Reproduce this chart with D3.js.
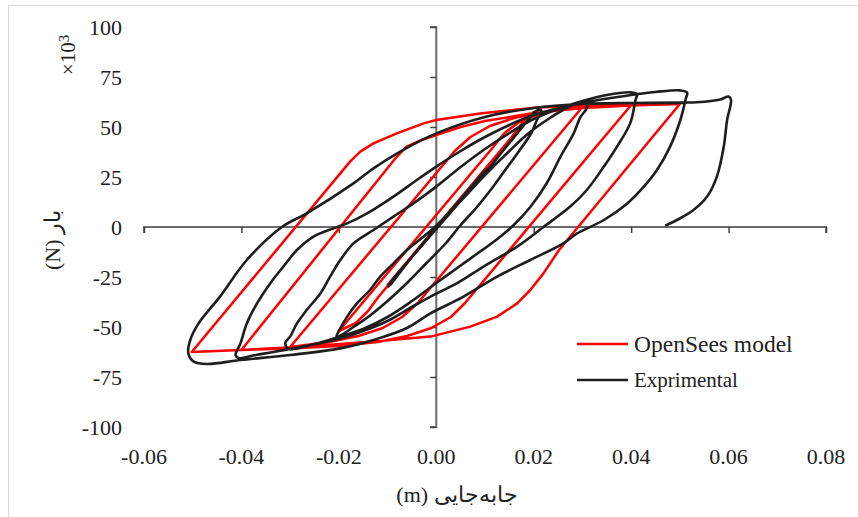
<!DOCTYPE html>
<html><head><meta charset="utf-8">
<script src="https://cdn.jsdelivr.net/npm/d3@7"></script>
<style>
html,body{margin:0;padding:0;background:#fff;}
</style></head>
<body><svg id="c" width="858" height="517"></svg>
<script>
// ---- data ----
const xTicks = [-0.06,-0.04,-0.02,0,0.02,0.04,0.06,0.08];
const yTicks = [-100,-75,-50,-25,0,25,50,75,100];
const seriesNames = ["OpenSees model","Exprimental"];
// OpenSees model path: [displacement (m), load (kN)]
const openSees = [
 [0,0],[0.01,29],[-0.01,-29],
 [0.0155,45],[0.017,50],[0.0185,54.5],[0.02,57.5],
 [-0.0119,-35],[-0.014,-42],[-0.0165,-48],[-0.02,-52],
 [0.0117,40],[0.014,47],[0.017,52.5],[0.021,56.5],[0.025,58.5],[0.03,60],
 [-0.0038,-38],[-0.007,-45],[-0.011,-50.5],[-0.016,-54.5],[-0.022,-57.5],[-0.03,-60],
 [0.0038,38],[0.007,45],[0.011,50.5],[0.016,54.5],[0.022,57.5],[0.03,59.5],[0.04,61],
 [0.0059,-38],[0.003,-45],[-0.001,-50.5],[-0.006,-54.5],[-0.012,-57.5],[-0.02,-59.5],[-0.03,-60.7],[-0.04,-61.5],
 [-0.0085,34],[-0.0062,40],[-0.003,43.5],[0,46],[0.005,50],[0.01,53],[0.02,57],[0.03,59.5],[0.04,60.8],[0.05,61.5],
 [0.0252,-11.5],[0.022,-23.2],[0.0193,-31.5],[0.0166,-38.2],[0.0125,-44.8],[0.007,-49.8],[-0.0012,-54.8],[-0.0129,-57.3],[-0.0266,-59.8],[-0.0402,-61.5],[-0.0502,-62.5],
 [-0.0177,32.7],[-0.0156,37.7],[-0.0129,41.8],[-0.0081,46.8],[-0.0026,51.8],[0,53.5],[0.009,56.8],[0.0207,59.8],[0.035,61],[0.05,61.5]
];
// Experimental path: [displacement (m), load (kN)]
const experimental = [
 [0,0],[0.005,14],[0.01,28],[0.0105,29],[0.008,22],[0.004,11],[0,0],[-0.005,-15],[-0.0098,-29.8],[-0.0095,-28],
 [-0.005,-15],[0,-1],[0.005,13],[0.01,27],[0.014,39],[0.017,48],[0.019,54],[0.0205,58],[0.0215,58.5],[0.0215,56],
 [0.021,55],[0.0195,47],[0.017,38],[0.014,28],[0.011,18],[0.008,9],[0.005,1],[0.002,-8],[-0.002,-18],[-0.006,-28],[-0.01,-37],[-0.014,-45],[-0.017,-50],[-0.0195,-54],[-0.0205,-55],[-0.02,-52],
 [-0.0183,-44.8],[-0.0163,-38.2],[-0.0136,-31.5],[-0.0115,-24.8],[-0.0088,-18.2],[-0.006,-11.5],[-0.0026,-4.8],[0,0.7],[0.005,13],[0.01,26],[0.015,38],[0.019,47],[0.023,54],[0.026,58.5],[0.029,62],[0.031,62.5],[0.0308,59],
 [0.0296,55],[0.0282,46.8],[0.0255,35.2],[0.0227,22],[0.0193,10],[0.0159,1],[0.012,-7],[0.008,-14],[0.004,-21],[0,-28],[-0.005,-37],[-0.01,-45],[-0.015,-51],[-0.02,-55],[-0.025,-58.5],[-0.0303,-61],[-0.031,-58],
 [-0.03,-54.8],[-0.0286,-48.2],[-0.0266,-41.5],[-0.0238,-33.2],[-0.0218,-24.8],[-0.0197,-16.5],[-0.017,-8.2],[-0.0129,-1.5],[-0.0088,5.2],[-0.0047,11.8],[0,20.2],[0.005,30],[0.01,39],[0.015,47],[0.02,54],[0.025,59],[0.03,63],[0.035,66],[0.04,67.3],[0.0412,66.5],[0.0409,63.5],
 [0.0398,51.8],[0.0371,40.2],[0.0344,30.2],[0.0309,18.5],[0.0275,10.2],[0.022,0],[0.0166,-9.8],[0.0097,-19.8],[0.0042,-28.2],[-0.0012,-34.8],[-0.005,-40],[-0.01,-47],[-0.015,-52],[-0.02,-56],[-0.03,-61],[-0.037,-64],[-0.0406,-65.5],[-0.0412,-64],
 [-0.0402,-58.2],[-0.0389,-48.2],[-0.0368,-38.2],[-0.0341,-28.2],[-0.0314,-19.8],[-0.0286,-11.5],[-0.0252,-4.8],[-0.0211,-0.7],[-0.0183,1.8],[-0.0142,6.8],[-0.0088,15.2],[-0.004,23.5],[0,30.2],[0.005,38],[0.01,45],[0.015,51],[0.02,56],[0.03,62],[0.04,66],[0.045,67.5],[0.05,68.3],[0.0515,67.2],[0.0512,64],
 [0.0501,53.5],[0.048,40.2],[0.0453,28.5],[0.0426,20.2],[0.0392,11.8],[0.0344,3.5],[0.0289,-3.2],[0.0261,-8.2],[0.0193,-16.5],[0.0125,-24.8],[0.0056,-34.8],[-0.0012,-43.2],[-0.006,-50.5],[-0.0129,-56.5],[-0.0197,-60.7],[-0.03,-64],[-0.0402,-66.5],[-0.0471,-68.5],[-0.0498,-67.3],[-0.0509,-63.2],[-0.0505,-56.5],
 [-0.0488,-48.2],[-0.0444,-34.8],[-0.0389,-16.5],[-0.0317,0],[-0.0266,6.8],[-0.017,21.8],[-0.0129,29.3],[-0.0074,37.7],[0,46.8],[0.01,55],[0.02,59.5],[0.03,61.5],[0.04,62],[0.0508,62.2],[0.0535,62.4],[0.0583,63.8],[0.06,65.2],[0.0605,63.5],
 [0.0597,53.5],[0.059,40],[0.0576,25.2],[0.0556,15.2],[0.0528,8.5],[0.0494,3.5],[0.047,0.7]
];

// ---- chart ----
const FONT = '"Liberation Serif", serif';
const svg = d3.select("#c");
const x = d3.scaleLinear().domain([-0.06,0.08]).range([144,826]);
const y = d3.scaleLinear().domain([-100,100]).range([427,27]);

svg.append("rect").attr("x",8.5).attr("y",5.5).attr("width",900).attr("height",600)
  .attr("fill","none").attr("stroke","#d9d9d9").attr("stroke-width",1);

// axes crossing at origin
const gx = svg.append("g").attr("transform",`translate(0,${y(0)})`)
  .call(d3.axisBottom(x).tickValues(xTicks).tickSize(6).tickFormat(""));
const gy = svg.append("g").attr("transform",`translate(${x(0)},0)`)
  .call(d3.axisLeft(y).tickValues(yTicks).tickSize(6).tickFormat(""));
[gx,gy].forEach(g=>{
  g.attr("font-family",null).attr("font-size",null);
  g.select(".domain").attr("stroke","#6b6b6b").attr("stroke-width",2);
  g.selectAll(".tick line").attr("stroke","#404040").attr("stroke-width",1.5);
});
gx.select(".domain").attr("d",`M${x(-0.06)},6V0H${x(0.08)}V6`);
gy.select(".domain").attr("d",`M-6,${y(100)}H0V${y(-100)}H-6`);

const T = svg.append("g").attr("font-family",FONT).attr("fill","#222");

// tick labels
T.append("g").selectAll("text").data(xTicks).join("text")
  .attr("font-family",FONT)
  .attr("x",d=>x(d)).attr("y",456).attr("dy","0.35em").attr("text-anchor","middle")
  .attr("font-size",22).text(d=>d3.format(".2f")(d).replace("−","-"));
T.append("g").selectAll("text").data(yTicks).join("text")
  .attr("font-family",FONT)
  .attr("x",122).attr("y",d=>y(d)).attr("dy","0.35em").attr("text-anchor","end")
  .attr("font-size",22).text(d=>String(d));

// series
svg.append("path").datum(openSees).attr("d",d3.line().x(d=>x(d[0])).y(d=>y(d[1])).curve(d3.curveLinear))
  .attr("fill","none").attr("stroke","#ff0000").attr("stroke-width",2.5).attr("stroke-linejoin","round");
svg.append("path").datum(experimental).attr("d",d3.line().x(d=>x(d[0])).y(d=>y(d[1])).curve(d3.curveCatmullRom.alpha(0.5)))
  .attr("fill","none").attr("stroke","#1e1e1e").attr("stroke-width",2.6).attr("stroke-linejoin","round");

// legend
const legColors = ["#ff0000","#1e1e1e"];
const legY = [344,380];
const leg = svg.append("g").attr("font-family",FONT).attr("fill","#222");
seriesNames.forEach((n,i)=>{
  leg.append("line").attr("x1",577).attr("x2",628).attr("y1",legY[i]).attr("y2",legY[i])
    .attr("stroke",legColors[i]).attr("stroke-width",2.5);
  leg.append("text").attr("font-family",FONT)
    .attr("x",634).attr("y",legY[i]).attr("dy","0.35em")
    .attr("font-size",i===0?23.5:21).text(n);
});

// axis titles
T.append("text").attr("font-family",FONT)
  .attr("x",457).attr("y",494).attr("dy","0.35em").attr("text-anchor","middle")
  .attr("font-size",22).attr("direction","rtl").text("جابه‌جایی (m)");
T.append("text").attr("font-family",FONT)
  .attr("transform","translate(52,240) rotate(-90)").attr("dy","0.35em")
  .attr("text-anchor","middle").attr("font-size",22).attr("direction","rtl").text("بار (N)");
const mult = T.append("text").attr("font-family",FONT)
  .attr("transform","translate(68,55) rotate(-90)").attr("dy","0.35em")
  .attr("text-anchor","middle").attr("font-size",21);
mult.append("tspan").text("×10");
mult.append("tspan").attr("dy","-0.45em").attr("font-size",15).text("3");
</script></body></html>
